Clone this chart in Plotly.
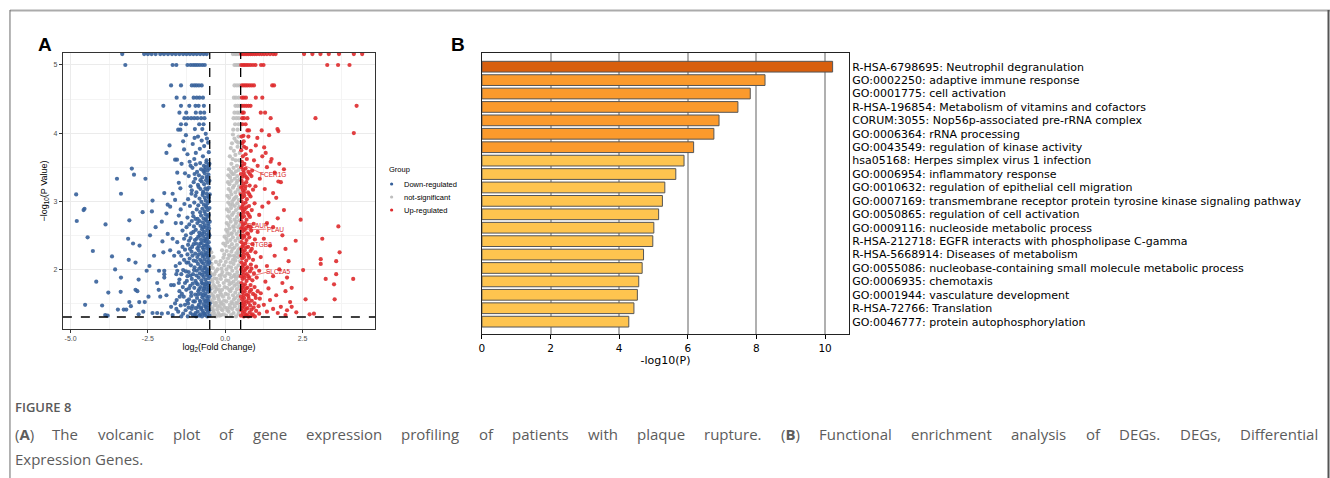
import plotly.graph_objects as go

# ---------------- Panel A data (volcano) : (log2FC, -log10 P) ----------------
down_pts = [
    (-3.33,5.16),(-2.62,5.16),(-2.5,5.16),(-2.38,5.16),(-2.25,5.16),(-2.1,5.16),(-1.98,5.16),(-1.85,5.16),(-1.72,5.16),
    (-1.6,5.16),(-1.48,5.16),(-1.36,5.16),(-1.25,5.16),(-1.14,5.16),(-1.03,5.16),(-0.92,5.16),(-0.81,5.16),(-0.7,5.16),(-0.6,5.16),
    (-3.23,5.0),(-1.7,5.0),(-1.58,5.0),(-1.22,5.0),(-1.12,5.0),(-1.04,5.0),(-0.97,5.0),(-0.9,5.0),(-0.82,5.0),(-0.74,5.0),(-0.66,5.0),
    (-1.75,4.7),(-1.43,4.7),(-1.08,4.7),(-1.0,4.7),(-0.93,4.7),(-0.85,4.7),(-0.76,4.7),
    (-1.57,4.52),(-1.32,4.52),(-1.02,4.52),(-0.92,4.52),(-0.83,4.52),(-0.72,4.52),
    (-2.0,4.4),(-1.43,4.4),(-1.16,4.4),(-0.96,4.4),(-0.86,4.4),(-0.69,4.4),
    (-1.48,4.3),(-1.26,4.3),(-0.95,4.3),(-0.8,4.3),(-0.68,4.3),
    (-1.32,4.22),(-1.21,4.22),(-1.1,4.22),(-1.0,4.22),(-0.9,4.22),(-0.78,4.22),(-0.67,4.22),
    (-1.43,4.13),(-1.27,4.13),(-0.84,4.13),(-0.7,4.13),
    (-1.52,4.05),(-1.45,4.05),(-0.98,4.06),(-0.74,4.06),
    (-1.8,3.82),(-1.9,3.71),(-1.62,3.61),(-1.56,3.61),(-1.33,3.76),(-1.27,3.97),(-1.36,3.88),(-1.22,3.69),(-1.15,3.58),
    (-1.05,3.84),(-0.99,3.93),(-0.88,3.95),(-0.76,3.89),(-0.63,3.99),(-1.12,3.52),(-1.41,3.55),(-0.95,3.71),(-0.68,3.81),
    (-0.59,3.92),(-0.72,3.66),(-0.82,3.77),(-1.0,3.62),(-0.55,3.86),(-0.53,3.72),(-0.6,3.6),(-0.51,3.55),
    (-0.52,3.48),(-0.57,3.45),(-0.63,3.5),(-0.7,3.44),(-0.78,3.47),(-0.91,3.43),(-1.06,3.49),
    (-0.54,3.39),(-0.6,3.36),(-0.66,3.41),(-0.74,3.35),(-0.85,3.38),(-0.97,3.33),(-1.18,3.37),(-1.3,3.41),
    (-0.51,3.3),(-0.56,3.27),(-0.62,3.31),(-0.68,3.25),(-0.76,3.29),(-0.88,3.24),(-1.02,3.28),(-1.12,3.22),
    (-0.53,3.2),(-0.58,3.17),(-0.64,3.19),(-0.71,3.14),(-0.8,3.18),(-0.93,3.13),(-1.08,3.16),(-1.45,3.19),
    (-0.5,3.1),(-0.55,3.07),(-0.6,3.11),(-0.66,3.05),(-0.73,3.09),(-0.83,3.04),(-0.96,3.08),(-1.2,3.03),
    (-0.52,3.0),(-0.57,2.97),(-0.63,3.01),(-0.69,2.95),(-0.77,2.99),(-0.87,2.94),(-1.0,2.98),(-1.14,2.93),(-1.32,2.96),
    (-0.51,2.9),(-0.56,2.87),(-0.61,2.91),(-0.67,2.85),(-0.74,2.89),(-0.81,2.84),(-0.92,2.88),(-1.05,2.83),
    (-0.53,2.8),(-0.58,2.77),(-0.64,2.81),(-0.7,2.75),(-0.78,2.79),(-0.89,2.74),(-1.03,2.78),(-1.22,2.76),(-1.5,2.79),
    (-0.5,2.7),(-0.55,2.67),(-0.6,2.71),(-0.66,2.65),(-0.72,2.69),(-0.8,2.64),(-0.9,2.68),(-1.01,2.63),(-1.16,2.66),
    (-0.52,2.6),(-0.57,2.57),(-0.62,2.61),(-0.68,2.55),(-0.75,2.59),(-0.84,2.54),(-0.95,2.58),(-1.1,2.53),(-1.38,2.57),
    (-0.51,2.5),(-0.55,2.47),(-0.6,2.51),(-0.65,2.45),(-0.71,2.49),(-0.78,2.44),(-0.87,2.48),(-0.98,2.43),(-1.12,2.46),(-1.27,2.5),
    (-0.53,2.4),(-0.58,2.37),(-0.63,2.41),(-0.69,2.35),(-0.76,2.39),(-0.85,2.34),(-0.94,2.38),(-1.07,2.33),(-1.2,2.36),(-1.55,2.4),
    (-0.5,2.3),(-0.54,2.27),(-0.59,2.31),(-0.64,2.25),(-0.7,2.29),(-0.77,2.24),(-0.86,2.28),(-0.97,2.23),(-1.09,2.26),(-1.3,2.29),
    (-0.52,2.2),(-0.56,2.17),(-0.61,2.21),(-0.67,2.15),(-0.73,2.19),(-0.81,2.14),(-0.9,2.18),(-1.02,2.13),(-1.15,2.16),(-1.42,2.2),
    (-0.51,2.1),(-0.55,2.07),(-0.6,2.11),(-0.65,2.05),(-0.71,2.09),(-0.79,2.04),(-0.88,2.08),(-0.99,2.03),(-1.11,2.06),(-1.25,2.1),(-1.6,2.05),
    (-0.53,2.0),(-0.57,1.97),(-0.62,2.01),(-0.68,1.95),(-0.74,1.99),(-0.82,1.94),(-0.92,1.98),(-1.04,1.93),(-1.18,1.96),(-1.36,1.99),
    (-0.5,1.9),(-0.54,1.87),(-0.59,1.91),(-0.64,1.85),(-0.7,1.89),(-0.77,1.84),(-0.86,1.88),(-0.96,1.83),(-1.08,1.86),(-1.22,1.9),(-1.48,1.85),
    (-0.52,1.8),(-0.56,1.77),(-0.61,1.81),(-0.66,1.75),(-0.72,1.79),(-0.8,1.74),(-0.89,1.78),(-1.0,1.73),(-1.13,1.76),(-1.3,1.8),(-1.66,1.77),
    (-0.51,1.7),(-0.55,1.67),(-0.6,1.71),(-0.65,1.65),(-0.71,1.69),(-0.78,1.64),(-0.87,1.68),(-0.97,1.63),(-1.1,1.66),(-1.26,1.7),(-1.4,1.64),
    (-0.53,1.6),(-0.57,1.57),(-0.62,1.61),(-0.68,1.55),(-0.74,1.59),(-0.82,1.54),(-0.91,1.58),(-1.03,1.53),(-1.17,1.56),(-1.34,1.6),(-1.57,1.55),
    (-0.5,1.5),(-0.54,1.47),(-0.59,1.51),(-0.64,1.45),(-0.7,1.49),(-0.77,1.44),(-0.85,1.48),(-0.95,1.43),(-1.06,1.46),(-1.2,1.5),(-1.44,1.47),
    (-0.52,1.4),(-0.56,1.37),(-0.61,1.41),(-0.67,1.35),(-0.73,1.39),(-0.8,1.34),(-0.89,1.38),(-0.99,1.33),(-1.12,1.36),(-1.28,1.4),(-1.52,1.38),
    (-0.51,1.32),(-0.58,1.31),(-0.65,1.33),(-0.75,1.31),(-0.84,1.32),(-0.94,1.31),(-1.05,1.33),(-1.21,1.31),
    (-0.54,3.53),(-0.61,3.57),(-0.69,3.52),(-0.81,3.56),(-0.95,3.54),
    (-0.53,3.05),(-0.62,2.93),(-0.72,3.12),(-0.86,3.21),(-1.09,3.11),(-0.58,3.34),(-0.67,3.46),(-0.8,3.31),(-0.99,3.4),
    (-0.54,2.64),(-0.63,2.73),(-0.71,2.62),(-0.83,2.71),(-0.96,2.74),(-1.08,2.71),(-1.25,2.62),(-1.42,2.68),
    (-0.53,2.52),(-0.59,2.44),(-0.68,2.42),(-0.74,2.53),(-0.82,2.5),(-0.92,2.45),(-1.03,2.55),(-1.17,2.42),(-1.33,2.45),
    (-0.54,2.33),(-0.62,2.35),(-0.73,2.32),(-0.81,2.38),(-0.9,2.31),(-1.02,2.37),(-1.14,2.3),(-1.22,2.22),(-1.38,2.33),(-1.5,2.25),
    (-0.53,2.12),(-0.58,2.23),(-0.69,2.21),(-0.76,2.11),(-0.85,2.22),(-0.94,2.12),(-1.06,2.2),(-1.19,2.1),(-1.33,2.14),(-1.47,2.09),
    (-0.55,1.93),(-0.61,1.96),(-0.67,2.02),(-0.75,1.92),(-0.84,2.01),(-0.93,1.91),(-1.01,1.99),(-1.12,1.91),(-1.27,1.97),(-1.42,1.93),(-1.55,1.98),
    (-0.53,1.73),(-0.63,1.78),(-0.69,1.72),(-0.76,1.8),(-0.84,1.71),(-0.93,1.8),(-1.05,1.79),(-1.17,1.72),(-1.24,1.83),(-1.37,1.74),(-1.5,1.8),
    (-0.55,1.54),(-0.63,1.53),(-0.71,1.62),(-0.8,1.52),(-0.88,1.63),(-0.98,1.53),(-1.1,1.61),(-1.23,1.54),(-1.3,1.48),(-1.47,1.6),(-1.62,1.5),
    (-0.54,1.43),(-0.63,1.46),(-0.7,1.36),(-0.78,1.42),(-0.87,1.45),(-0.96,1.36),(-1.08,1.42),(-1.18,1.44),(-1.36,1.35),(-1.42,1.31),(-1.58,1.42),
    (-4.82,3.1),(-3.37,3.11),(-4.58,2.87),(-4.55,2.89),(-4.8,2.71),(-3.87,2.66),(-3.1,2.72),(-4.45,2.47),(-4.28,2.27),
    (-3.66,2.19),(-3.37,1.88),(-4.17,1.82),(-3.78,1.66),(-3.38,1.67),(-4.53,1.48),(-3.98,1.47),(-3.88,1.33),(-3.8,1.32),
    (-3.47,1.41),(-3.28,1.41),(-3.2,1.41),(-3.14,2.45),(-2.98,2.38),(-2.77,2.35),(-3.12,2.14),(-2.9,2.1),(-3.56,2.0),
    (-2.8,1.85),(-2.9,1.7),(-2.84,1.68),(-3.1,1.52),(-3.05,1.46),(-2.8,1.34),(-3.02,3.48),(-2.95,3.39),(-3.5,3.33),
    (-2.58,3.33),(-2.67,2.84),(-2.35,3.01),(-2.37,2.85),(-1.97,3.12),(-1.86,2.95),(-1.78,2.92),(-1.7,3.11),(-2.43,2.5),
    (-2.54,1.98),(-2.45,2.05),(-2.03,2.41),(-1.86,2.52),(-2.0,2.25),(-2.14,1.98),(-1.97,1.98),(-1.97,1.93),(-1.97,1.88),
    (-2.2,1.8),(-2.15,1.7),(-2.1,1.6),(-1.9,1.62),(-1.75,1.77),(-2.6,1.52),(-2.35,1.36),(-2.2,1.36),(-2.05,1.35),
    (-1.85,1.36),(-1.7,1.33),(-2.48,1.6),(-2.65,1.38),(-1.62,3.02),(-1.5,3.27),(-1.44,2.88),(-1.6,2.68),(-1.7,2.45),
    (-1.78,2.28),(-1.65,2.2),(-1.58,1.93),(-1.75,1.45),(-1.48,1.68),(-2.25,2.62),(-2.05,2.7),(-1.9,2.82),(-2.3,2.2),
    (-1.55,3.42),(-2.78,1.52),
]

ns_pts = [
    (0.25,5.16),(0.32,5.16),(0.38,5.16),(0.45,5.16),(0.3,5.0),(0.36,5.0),(0.42,5.0),(0.47,5.0),
    (0.3,4.7),(0.38,4.7),(0.46,4.7),(0.28,4.52),(0.35,4.52),(0.44,4.52),(0.33,4.4),(0.4,4.4),(0.47,4.4),
    (0.3,4.3),(0.39,4.3),(0.46,4.3),(0.27,4.22),(0.36,4.22),(0.44,4.22),(0.32,4.13),(0.43,4.13),(0.26,4.05),(0.4,4.05),
    (0.25,3.98),(0.3,3.92),(0.22,3.85),(0.36,3.88),(0.43,3.95),(0.18,3.78),(0.28,3.74),(0.4,3.8),(0.47,3.71),
    (0.15,3.66),(0.24,3.62),(0.33,3.68),(0.45,3.6),(0.2,3.55),(0.38,3.52),
    (0.12,3.47),(0.19,3.43),(0.27,3.49),(0.35,3.44),(0.44,3.46),
    (0.1,3.38),(0.16,3.35),(0.23,3.4),(0.31,3.33),(0.39,3.37),(0.47,3.32),
    (0.09,3.28),(0.14,3.25),(0.21,3.3),(0.29,3.23),(0.37,3.27),(0.45,3.22),
    (0.11,3.18),(0.17,3.15),(0.25,3.2),(0.33,3.13),(0.41,3.17),(0.48,3.12),
    (0.07,3.08),(0.13,3.05),(0.2,3.1),(0.28,3.03),(0.36,3.07),(0.44,3.02),
    (0.1,2.98),(0.16,2.95),(0.23,3.0),(0.31,2.93),(0.39,2.97),(0.47,2.92),
    (0.06,2.88),(0.12,2.85),(0.19,2.9),(0.27,2.83),(0.35,2.87),(0.43,2.82),
    (0.09,2.78),(0.15,2.75),(0.22,2.8),(0.3,2.73),(0.38,2.77),(0.46,2.72),
    (0.05,2.68),(0.11,2.65),(0.18,2.7),(0.26,2.63),(0.34,2.67),(0.42,2.62),(0.49,2.66),
    (0.03,2.58),(0.08,2.55),(0.14,2.6),(0.21,2.53),(0.29,2.57),(0.37,2.52),(0.45,2.56),
    (-0.02,2.48),(0.04,2.45),(0.1,2.5),(0.17,2.43),(0.25,2.47),(0.33,2.42),(0.41,2.46),(0.48,2.41),
    (-0.06,2.38),(0.01,2.35),(0.07,2.4),(0.14,2.33),(0.22,2.37),(0.3,2.32),(0.38,2.36),(0.46,2.31),
    (-0.45,2.25),(-0.1,2.28),(-0.03,2.22),(0.05,2.27),(0.12,2.21),(0.2,2.26),(0.28,2.2),(0.36,2.24),(0.44,2.23),
    (-0.47,2.15),(-0.38,2.18),(-0.15,2.12),(-0.06,2.17),(0.02,2.11),(0.09,2.16),(0.17,2.1),(0.25,2.14),(0.33,2.13),(0.41,2.18),(0.48,2.12),
    (-0.46,2.05),(-0.4,2.02),(-0.2,2.07),(-0.12,2.01),(-0.04,2.06),(0.04,2.0),(0.11,2.04),(0.19,2.03),(0.27,2.08),(0.35,2.02),(0.43,2.06),
    (-0.48,1.95),(-0.42,1.92),(-0.3,1.97),(-0.18,1.91),(-0.09,1.96),(-0.01,1.9),(0.07,1.94),(0.15,1.93),(0.23,1.98),(0.31,1.92),(0.39,1.96),(0.47,1.91),
    (-0.47,1.85),(-0.41,1.82),(-0.35,1.87),(-0.24,1.81),(-0.14,1.86),(-0.05,1.8),(0.03,1.84),(0.11,1.83),(0.19,1.88),(0.27,1.82),(0.35,1.86),(0.43,1.81),
    (-0.49,1.75),(-0.43,1.72),(-0.37,1.77),(-0.28,1.71),(-0.19,1.76),(-0.1,1.7),(-0.02,1.74),(0.06,1.73),(0.14,1.78),(0.22,1.72),(0.3,1.76),(0.38,1.71),(0.46,1.75),
    (-0.46,1.65),(-0.4,1.62),(-0.33,1.67),(-0.25,1.61),(-0.16,1.66),(-0.07,1.6),(0.01,1.64),(0.09,1.63),(0.17,1.68),(0.25,1.62),(0.33,1.66),(0.41,1.61),(0.48,1.65),
    (-0.48,1.55),(-0.42,1.52),(-0.36,1.57),(-0.29,1.51),(-0.21,1.56),(-0.12,1.5),(-0.04,1.54),(0.04,1.53),(0.12,1.58),(0.2,1.52),(0.28,1.56),(0.36,1.51),(0.44,1.55),
    (-0.47,1.45),(-0.41,1.42),(-0.34,1.47),(-0.26,1.41),(-0.18,1.46),(-0.09,1.4),(-0.01,1.44),(0.07,1.43),(0.15,1.48),(0.23,1.42),(0.31,1.46),(0.39,1.41),(0.47,1.45),
    (-0.49,1.35),(-0.43,1.32),(-0.37,1.37),(-0.3,1.31),(-0.22,1.36),(-0.13,1.33),(-0.05,1.34),(0.03,1.32),(0.11,1.38),(0.19,1.33),(0.27,1.36),(0.35,1.31),(0.43,1.35),
    (-0.44,2.08),(-0.3,2.11),(-0.25,2.0),(-0.35,1.93),(-0.27,1.86),(-0.12,1.92),(-0.2,1.7),(-0.31,1.74),(-0.13,1.63),(-0.22,1.6),
    (-0.38,1.6),(-0.33,1.5),(-0.16,1.52),(-0.06,1.48),(-0.25,1.46),(-0.39,1.4),(-0.13,1.42),(-0.19,1.32),(-0.33,1.33),(0.08,1.4),
    (0.16,1.44),(0.24,1.5),(0.32,1.58),(0.4,1.5),(0.45,1.4),(0.13,1.7),(0.2,1.8),(0.28,1.9),(0.36,1.78),(0.42,1.9),
    (0.16,2.2),(0.24,2.3),(0.32,2.18),(0.42,2.28),(0.2,2.52),(0.28,2.62),(0.36,2.7),(0.44,2.9),(0.24,2.95),(0.32,3.05),
    (0.4,3.3),(0.28,3.4),(0.34,3.6),(0.42,3.86),
]

up_pts = [
    (0.52,5.16),(0.58,5.16),(0.64,5.16),(0.7,5.16),(0.76,5.16),(0.82,5.16),(0.88,5.16),(0.95,5.16),(1.02,5.16),(1.1,5.16),
    (1.18,5.16),(1.26,5.16),(1.35,5.16),(1.45,5.16),(1.55,5.16),(1.63,5.16),(2.55,5.16),(2.82,5.16),(3.08,5.16),(3.35,5.16),
    (3.68,5.16),(4.16,5.16),(4.43,5.16),
    (0.52,5.0),(0.58,5.0),(0.63,5.0),(0.69,5.0),(0.75,5.0),(0.82,5.0),(0.9,5.0),(0.98,5.0),(1.16,5.0),(1.24,5.0),(3.3,5.0),(3.65,5.0),(4.02,5.0),
    (0.54,4.7),(0.6,4.7),(0.66,4.7),(0.72,4.7),(0.79,4.7),(0.86,4.7),(0.93,4.7),(1.52,4.7),(1.58,4.7),
    (0.54,4.52),(0.6,4.52),(0.67,4.52),(0.99,4.52),(1.2,4.52),
    (0.54,4.4),(0.61,4.4),(0.68,4.4),(0.75,4.4),(0.82,4.4),(4.25,4.4),
    (0.55,4.3),(0.6,4.3),(1.15,4.3),(1.29,4.3),
    (0.55,4.22),(0.61,4.22),(0.72,4.22),(1.47,4.22),(2.92,4.22),
    (0.56,4.13),(0.66,4.13),
    (0.72,4.04),(0.77,4.04),(1.18,4.04),(1.69,4.06),(1.72,4.03),(4.16,4.0),(0.59,3.96),(0.75,3.95),(1.04,3.93),(1.42,3.97),
    (0.61,3.8),(0.99,3.82),(1.26,3.79),(1.31,3.71),(1.2,3.66),(0.83,3.74),(0.66,3.69),(1.47,3.58),(0.93,3.6),(1.9,3.47),
    (1.05,3.52),(1.35,3.5),(1.6,3.42),(1.75,3.55),(1.5,3.62),(0.87,3.45),(1.72,3.29),(1.8,3.28),(1.12,3.33),(1.28,3.18),
    (1.55,3.12),(0.98,3.22),(1.65,3.05),(1.4,2.98),(1.2,2.92),(1.9,2.87),(1.1,2.8),(1.7,2.75),(2.44,2.73),(1.35,2.68),
    (1.55,2.62),(3.66,2.63),(1.05,2.55),(1.85,2.5),(3.14,2.45),(2.28,2.42),(1.25,2.45),(1.45,2.35),(1.95,2.3),(3.7,2.25),
    (1.6,2.2),(1.15,2.18),(3.09,2.15),(3.09,2.08),(3.59,2.12),(2.05,2.12),(1.35,2.05),(2.52,1.99),(1.75,2.0),(1.1,1.98),
    (3.59,1.93),(1.55,1.9),(2.0,1.88),(3.25,1.86),(4.14,1.86),(1.3,1.82),(1.85,1.8),(3.52,1.78),(2.15,1.73),(1.4,1.72),
    (1.95,1.68),(1.15,1.65),(1.65,1.62),(2.6,1.56),(3.54,1.56),(1.45,1.55),(2.1,1.52),(1.25,1.48),(1.8,1.45),(1.55,1.42),
    (2.0,1.4),(1.35,1.38),(2.73,1.34),(2.87,1.35),(1.7,1.36),(2.3,1.37),(1.95,1.33),(1.1,1.35),(2.15,1.45),
    (0.53,3.95),(0.55,3.85),(0.52,3.75),(0.57,3.66),(0.54,3.58),(0.62,3.55),(0.7,3.62),(0.6,3.88),(0.68,3.78),
    (0.52,3.5),(0.58,3.46),(0.66,3.48),(0.75,3.43),
    (0.51,3.4),(0.56,3.36),(0.63,3.38),(0.72,3.33),(0.85,3.37),
    (0.53,3.3),(0.59,3.26),(0.68,3.28),(0.79,3.23),
    (0.52,3.2),(0.57,3.16),(0.64,3.18),(0.74,3.13),(0.9,3.17),
    (0.51,3.1),(0.56,3.06),(0.62,3.08),(0.7,3.03),(0.82,3.07),
    (0.53,3.0),(0.58,2.96),(0.66,2.98),(0.77,2.93),(0.95,2.97),
    (0.52,2.9),(0.57,2.86),(0.63,2.88),(0.72,2.83),(0.86,2.87),
    (0.51,2.8),(0.55,2.76),(0.61,2.78),(0.69,2.73),(0.8,2.77),
    (0.53,2.7),(0.58,2.66),(0.65,2.68),(0.75,2.63),(0.92,2.67),
    (0.52,2.6),(0.57,2.56),(0.63,2.58),(0.71,2.53),(0.84,2.57),
    (0.51,2.5),(0.56,2.46),(0.62,2.48),(0.69,2.43),(0.78,2.47),(0.96,2.44),
    (0.53,2.4),(0.58,2.36),(0.65,2.38),(0.74,2.33),(0.88,2.37),
    (0.52,2.3),(0.57,2.26),(0.63,2.28),(0.71,2.23),(0.82,2.27),(0.98,2.25),
    (0.51,2.2),(0.55,2.16),(0.61,2.18),(0.68,2.13),(0.77,2.17),(0.9,2.14),
    (0.53,2.1),(0.58,2.06),(0.64,2.08),(0.72,2.03),(0.83,2.07),(1.0,2.04),
    (0.52,2.0),(0.57,1.96),(0.63,1.98),(0.7,1.93),(0.8,1.97),(0.93,1.94),
    (0.51,1.9),(0.56,1.86),(0.62,1.88),(0.69,1.83),(0.78,1.87),(0.88,1.84),(1.02,1.88),
    (0.53,1.8),(0.58,1.76),(0.64,1.78),(0.72,1.73),(0.82,1.77),(0.95,1.74),
    (0.52,1.7),(0.57,1.66),(0.63,1.68),(0.7,1.63),(0.79,1.67),(0.9,1.64),(1.05,1.68),
    (0.51,1.6),(0.55,1.56),(0.61,1.58),(0.68,1.53),(0.76,1.57),(0.86,1.54),(0.99,1.58),
    (0.53,1.5),(0.58,1.46),(0.64,1.48),(0.72,1.43),(0.81,1.47),(0.92,1.44),(1.08,1.46),
    (0.52,1.4),(0.57,1.36),(0.63,1.38),(0.7,1.33),(0.79,1.37),(0.89,1.34),(1.0,1.39),
    (0.51,1.32),(0.6,1.31),(0.67,1.33),(0.75,1.31),(0.85,1.32),(0.96,1.31),
    (0.54,3.52),(0.6,3.42),(0.69,3.35),(0.8,3.4),(0.55,3.22),(0.61,3.13),(0.66,3.22),(0.78,3.1),(0.56,2.92),(0.6,2.83),
    (0.68,2.91),(0.76,2.8),(0.55,2.62),(0.6,2.5),(0.67,2.61),(0.74,2.52),(0.82,2.62),(0.55,2.33),(0.6,2.22),(0.67,2.32),
    (0.75,2.2),(0.86,2.3),(0.55,2.03),(0.6,1.92),(0.67,2.01),(0.75,1.9),(0.85,2.01),(0.55,1.73),(0.6,1.62),(0.67,1.72),
    (0.75,1.61),(0.84,1.7),(0.97,1.62),(0.55,1.43),(0.6,1.52),(0.67,1.42),(0.76,1.51),(0.85,1.41),(0.95,1.5),(1.12,1.57),
]

# labelled genes: name, point (x, y), label position (x, y)
gene_labels = ["FCER1G", "PLAUR", "PLAU", "ITGB2", "SLC2A5"]
gene_pt_x = [0.56, 0.53, 0.58, 0.6, 0.66]
gene_pt_y = [3.54, 2.67, 2.58, 2.4, 1.88]
gene_lab_x = [1.55, 1.07, 1.63, 1.2, 1.74]
gene_lab_y = [3.39, 2.64, 2.59, 2.37, 1.97]

fc_cut = 0.5
p_cut = 1.301

group_names = ["Down-regulated", "not-significant", "Up-regulated"]
group_colors = ["#36609A", "#BEBEBE", "#DE2A2C"]

# ---------------- Panel B data (enrichment) ----------------
terms = [
    "R-HSA-6798695: Neutrophil degranulation",
    "GO:0002250: adaptive immune response",
    "GO:0001775: cell activation",
    "R-HSA-196854: Metabolism of vitamins and cofactors",
    "CORUM:3055: Nop56p-associated pre-rRNA complex",
    "GO:0006364: rRNA processing",
    "GO:0043549: regulation of kinase activity",
    "hsa05168: Herpes simplex virus 1 infection",
    "GO:0006954: inflammatory response",
    "GO:0010632: regulation of epithelial cell migration",
    "GO:0007169: transmembrane receptor protein tyrosine kinase signaling pathway",
    "GO:0050865: regulation of cell activation",
    "GO:0009116: nucleoside metabolic process",
    "R-HSA-212718: EGFR interacts with phospholipase C-gamma",
    "R-HSA-5668914: Diseases of metabolism",
    "GO:0055086: nucleobase-containing small molecule metabolic process",
    "GO:0006935: chemotaxis",
    "GO:0001944: vasculature development",
    "R-HSA-72766: Translation",
    "GO:0046777: protein autophosphorylation",
]
neg_log_p = [10.22, 8.25, 7.82, 7.46, 6.91, 6.76, 6.17, 5.89, 5.65, 5.33,
             5.26, 5.15, 5.01, 4.98, 4.71, 4.67, 4.57, 4.53, 4.43, 4.28]
bar_colors = ["#D85F0E"] + ["#FB9A2C"] * 6 + ["#FEC44F"] * 13

caption_title = "FIGURE 8"
caption_line1 = ("(A) The volcanic plot of gene expression profiling of patients with plaque "
                 "rupture. (B) Functional enrichment analysis of DEGs. DEGs, Differential")
caption_line2 = "Expression Genes."

# ---------------- figure ----------------
W, H = 1330, 478


def px(x):
    return x / W


def py(y):
    return 1 - y / H


fig = go.Figure()

for pts, name, col in [(ns_pts, group_names[1], group_colors[1]),
                       (down_pts, group_names[0], group_colors[0]),
                       (up_pts, group_names[2], group_colors[2])]:
    fig.add_trace(go.Scatter(
        x=[p[0] for p in pts], y=[p[1] for p in pts], mode="markers", name=name,
        marker=dict(size=4.2, color=col, opacity=0.9, line=dict(width=0)),
        xaxis="x", yaxis="y", showlegend=False, hoverinfo="skip"))

fig.add_trace(go.Bar(
    x=neg_log_p, y=list(range(len(terms))), orientation="h",
    marker=dict(color=bar_colors, line=dict(color="#555555", width=1)),
    width=0.8, xaxis="x2", yaxis="y2", showlegend=False, hoverinfo="skip"))

tick_font_a = dict(family="Liberation Sans, Arial", size=7, color="#4D4D4D")
fig.update_layout(
    width=W, height=H, autosize=False,
    margin=dict(l=0, r=0, t=0, b=0, pad=0),
    paper_bgcolor="white", plot_bgcolor="white",
    font=dict(family="Liberation Sans, Arial"),
    xaxis=dict(
        domain=[px(60), px(373)], range=[-5.25, 4.85], anchor="y",
        tickvals=[-5, -2.5, 0, 2.5], ticktext=["-5.0", "-2.5", "0.0", "2.5"],
        tickfont=tick_font_a, ticks="outside", ticklen=3, tickcolor="#333333",
        showgrid=True, gridcolor="#EBEBEB", gridwidth=1,
        minor=dict(tickvals=[-3.75, -1.25, 1.25, 3.75], showgrid=True, gridcolor="#F4F4F4", gridwidth=0.6),
        showline=True, mirror=True, linecolor="#333333", linewidth=1, zeroline=False,
        title=dict(text="log<sub>2</sub>(Fold Change)", font=dict(size=9, color="black"), standoff=2),
    ),
    yaxis=dict(
        domain=[py(329), py(53)], range=[1.125, 5.176], anchor="x",
        tickvals=[2, 3, 4, 5], tickfont=tick_font_a, ticks="outside", ticklen=3, tickcolor="#333333",
        showgrid=True, gridcolor="#EBEBEB", gridwidth=1,
        minor=dict(tickvals=[1.5, 2.5, 3.5, 4.5], showgrid=True, gridcolor="#F4F4F4", gridwidth=0.6),
        showline=True, mirror=True, linecolor="#333333", linewidth=1, zeroline=False,
        title=dict(text="\u2212log<sub>10</sub>(P Value)", font=dict(size=9, color="black"), standoff=4),
    ),
    xaxis2=dict(
        domain=[px(480), px(848)], range=[0, 10.7], anchor="y2",
        tickvals=[0, 2, 4, 6, 8, 10], tickfont=dict(family="DejaVu Sans", size=10.5, color="black"),
        ticks="outside", ticklen=4, tickcolor="black",
        showgrid=True, gridcolor="#B0B0B0", gridwidth=1.6,
        showline=True, mirror=True, linecolor="#222222", linewidth=1, zeroline=False,
        title=dict(text="-log10(P)", font=dict(family="DejaVu Sans", size=11, color="black"), standoff=3),
    ),
    yaxis2=dict(
        domain=[py(334), py(53)], range=[len(terms) - 1 + 0.92, -1.02], anchor="x2", side="right",
        tickvals=list(range(len(terms))), ticktext=terms,
        tickfont=dict(family="DejaVu Sans", size=11, color="black"), ticks="",
        showgrid=False, showline=True, mirror=True, linecolor="#222222", linewidth=1, zeroline=False,
    ),
)

shapes = []
# threshold lines in volcano
for xv in (-fc_cut, fc_cut):
    shapes.append(dict(type="line", xref="x", yref="paper", x0=xv, x1=xv, y0=py(329), y1=py(53),
                       line=dict(color="black", width=1.3, dash="dash")))
shapes.append(dict(type="line", xref="paper", yref="y", x0=px(60), x1=px(373), y0=p_cut, y1=p_cut,
                   line=dict(color="black", width=1.3, dash="dash")))
# gene label connectors
for x0, y0, x1, y1 in zip(gene_pt_x, gene_pt_y, gene_lab_x, gene_lab_y):
    shapes.append(dict(type="line", xref="x", yref="y", x0=x0, y0=y0, x1=x1 - 0.3, y1=y1,
                       line=dict(color="#DE2A2C", width=0.6)))
# page frame
shapes.append(dict(type="line", xref="paper", yref="paper", x0=px(7), x1=px(1330), y0=py(10.5), y1=py(10.5),
                   line=dict(color="#ABABAB", width=2)))
shapes.append(dict(type="line", xref="paper", yref="paper", x0=px(7), x1=px(7), y0=py(10), y1=0,
                   line=dict(color="#6A6A6A", width=1)))
shapes.append(dict(type="line", xref="paper", yref="paper", x0=px(1328.5), x1=px(1328.5), y0=py(10), y1=0,
                   line=dict(color="#555555", width=2)))

annotations = []
# gene labels
for g, x1, y1 in zip(gene_labels, gene_lab_x, gene_lab_y):
    annotations.append(dict(x=x1, y=y1, xref="x", yref="y", text=g, showarrow=False,
                            xanchor="center", yanchor="middle",
                            font=dict(family="Liberation Sans, Arial", size=6.5, color="#D7191C")))

# manual legend (group key)
annotations.append(dict(x=px(385), y=py(169), xref="paper", yref="paper", text="Group", showarrow=False,
                        xanchor="left", yanchor="middle",
                        font=dict(family="Liberation Sans, Arial", size=7.5, color="black")))
for i, (name, col) in enumerate(zip(group_names, group_colors)):
    yy = 184 + 13 * i
    shapes.append(dict(type="circle", xref="paper", yref="paper", xsizemode="pixel", ysizemode="pixel",
                       xanchor=px(389.5), yanchor=py(yy), x0=-1.6, x1=1.6, y0=-1.6, y1=1.6,
                       fillcolor=col, line=dict(width=0)))
    annotations.append(dict(x=px(400), y=py(yy), xref="paper", yref="paper", text=name, showarrow=False,
                            xanchor="left", yanchor="middle",
                            font=dict(family="Liberation Sans, Arial", size=7.5, color="black")))

# panel letters
annotations.append(dict(x=px(42.5), y=py(44), xref="paper", yref="paper", text="<b>A</b>", showarrow=False,
                        xanchor="center", yanchor="middle",
                        font=dict(family="Liberation Sans, Arial", size=19, color="black")))
annotations.append(dict(x=px(456), y=py(44), xref="paper", yref="paper", text="<b>B</b>", showarrow=False,
                        xanchor="center", yanchor="middle",
                        font=dict(family="Liberation Sans, Arial", size=19, color="black")))

# caption
OS_W = {' ': 532, '(': 578, ')': 578, '.': 545, ',': 502, '-': 659,
        'A': 1296, 'B': 1327, 'C': 1292, 'D': 1493, 'E': 1139, 'F': 1057, 'G': 1491, 'T': 1118, 'S': 1120,
        'a': 1141, 'b': 1237, 'c': 975, 'd': 1237, 'e': 1141, 'f': 684, 'g': 1094, 'h': 1259, 'i': 518,
        'j': 518, 'k': 1075, 'l': 518, 'm': 1905, 'n': 1259, 'o': 1221, 'p': 1237, 'q': 1237, 'r': 836,
        's': 977, 't': 723, 'u': 1259, 'v': 1026, 'w': 1593, 'x': 1073, 'y': 1028, 'z': 977}
CAP_SIZE = 15
CAP_COLOR = "#5C5C5C"


def text_w(s, size=CAP_SIZE):
    return sum(OS_W.get(c, 1150) for c in s) / 2048 * size


annotations.append(dict(x=px(10), y=py(407), xref="paper", yref="paper", text=caption_title, showarrow=False,
                        xanchor="left", yanchor="middle",
                        font=dict(family="Open Sans", size=13, color="#5A5A5A", weight=600)))
words = caption_line1.split(" ")
natural = sum(text_w(w) for w in words)
gap = (1318 - 12 - natural) / (len(words) - 1)
xcur = 12
for w in words:
    shown = w.replace("(A)", "(<b>A</b>)").replace("(B)", "(<b>B</b>)")
    annotations.append(dict(x=px(xcur - 2), y=py(434), xref="paper", yref="paper", text=shown, showarrow=False,
                            xanchor="left", yanchor="middle",
                            font=dict(family="Open Sans", size=CAP_SIZE, color=CAP_COLOR)))
    xcur += text_w(w) + gap
annotations.append(dict(x=px(10), y=py(459), xref="paper", yref="paper", text=caption_line2, showarrow=False,
                        xanchor="left", yanchor="middle",
                        font=dict(family="Open Sans", size=CAP_SIZE, color=CAP_COLOR)))

fig.update_layout(shapes=shapes, annotations=annotations)
fig.write_html("out.html")
